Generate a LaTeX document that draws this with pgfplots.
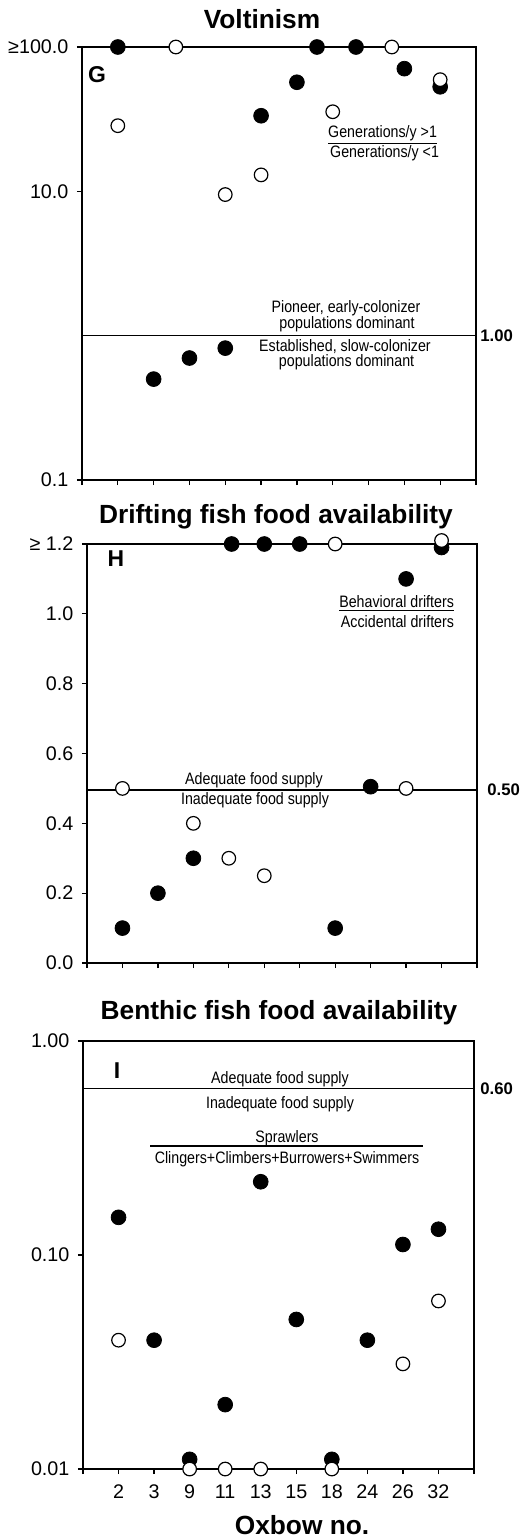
\documentclass[border=0pt]{standalone}
\usepackage{pgfplots}
\pgfplotsset{compat=1.18}
\usepackage{fontspec}
\setmainfont{Liberation Sans}
\newfontfamily\narrow[FakeStretch=0.86]{Liberation Sans}
\newcommand\note{\narrow\fontsize{8.3}{9.5}\selectfont}
\newcommand\titlefont{\bfseries\fontsize{13.2}{15}\selectfont}

\pgfplotsset{
  oxbow/.style={
    scale only axis, anchor=north west,
    xmin=0, xmax=11, xtick={0,...,11},
    axis line style={line width=0.6bp},
    tick align=outside, xtick pos=lower, ytick pos=left,
    major tick length=2.6bp,
    every tick/.style={line width=0.6bp, black},
    yminorticks=false, xminorticks=false,
    ticklabel style={font=\fontsize{9.9}{11}\selectfont},
    yticklabel style={inner sep=0pt, xshift=-4bp},
    clip=false,
  },
  above/.style={only marks, mark=*, mark size=3.7bp,
    mark options={fill=black, draw=black}},
  below/.style={only marks, mark=*, mark size=3.4bp,
    mark options={fill=white, draw=black, line width=0.6bp}},
  cut/.style={line width=0.7bp, black, no marks},
}

\begin{document}
\begin{tikzpicture}
\useasboundingbox (0,0) rectangle (260.5bp,-770bp);

% G: voltinism ratio
\begin{axis}[oxbow, at={(41bp,-23.5bp)}, width=197bp, height=216.5bp,
  ymode=log, ymin=0.1, ymax=100,
  ytick={0.1,10,100}, yticklabels={0.1,10.0,≥100.0}, xticklabels={}]
\addplot[cut] coordinates {(0,1) (11,1)};
\addplot[above] coordinates {(1,100) (2,0.50) (3,0.70) (4,0.82) (5,33.4)
  (6,57) (6.56,100) (7.65,100) (9,70.8) (10,53)};
\addplot[below] coordinates {(1,28.5) (2.62,100) (4,9.5) (5,13)
  (7,35.6) (8.65,100) (10,59.4)};
\end{axis}

% H: drifting fish food
\begin{axis}[oxbow, at={(43.5bp,-272bp)}, width=195bp, height=209.5bp,
  ymin=0, ymax=1.2,
  ytick={0,0.2,0.4,0.6,0.8,1.0,1.2},
  yticklabels={0.0,0.2,0.4,0.6,0.8,1.0,≥ 1.2}, xticklabels={}]
\addplot[cut, line width=0.9bp] coordinates {(0,0.495) (11,0.495)};
\addplot[above] coordinates {(1,0.1) (2,0.2) (3,0.3) (4.08,1.2) (5,1.2)
  (6,1.2) (7,0.1) (8,0.505) (9,1.1) (10,1.19)};
\addplot[below] coordinates {(1,0.5) (3,0.4) (4,0.3) (5,0.25) (7,1.2)
  (9,0.5) (10,1.21)};
\end{axis}

% I: benthic fish food
\begin{axis}[oxbow, at={(41.5bp,-520.5bp)}, width=195.5bp, height=214bp,
  ymode=log, ymin=0.01, ymax=1,
  ytick={0.01,0.1,1}, yticklabels={0.01,0.10,1.00},
  xticklabels={,2,3,9,11,13,15,18,24,26,32,},
  xticklabel style={inner sep=0pt, yshift=-5bp}]
\addplot[cut] coordinates {(0,0.6) (11,0.6)};
\addplot[above] coordinates {(1,0.15) (2,0.04) (3,0.0111) (4,0.02) (5,0.22)
  (6,0.05) (7,0.0111) (8,0.04) (9,0.112) (10,0.132)};
\addplot[below] coordinates {(1,0.04) (3,0.01) (4,0.01) (5,0.01) (7,0.01)
  (9,0.031) (10,0.061)};
\end{axis}

% titles
\node[anchor=base, font=\titlefont] at (131bp,-14bp) {Voltinism};
\node[anchor=base, font=\titlefont] at (138bp,-261.5bp) {Drifting fish food availability};
\node[anchor=base, font=\titlefont] at (139.5bp,-509.5bp) {Benthic fish food availability};
\node[anchor=base, font=\titlefont] at (151bp,-767bp) {Oxbow no.};

% panel letters
\node[font=\bfseries\fontsize{11.5}{13}\selectfont] at (48.5bp,-37.5bp) {G};
\node[font=\bfseries\fontsize{11.5}{13}\selectfont] at (58bp,-279.5bp) {H};
\node[font=\bfseries\fontsize{11.5}{13}\selectfont] at (58.5bp,-535.5bp) {I};

% threshold values
\node[anchor=west, font=\bfseries\fontsize{8.4}{10}\selectfont, inner sep=0pt] at (240bp,-168bp) {1.00};
\node[anchor=west, font=\bfseries\fontsize{8.4}{10}\selectfont, inner sep=0pt] at (243.5bp,-395bp) {0.50};
\node[anchor=west, font=\bfseries\fontsize{8.4}{10}\selectfont, inner sep=0pt] at (240bp,-544.5bp) {0.60};

% annotations, G
\node[font=\note, inner sep=0pt] at (173bp,-154.3bp) {Pioneer, early-colonizer};
\node[font=\note, inner sep=0pt] at (173.5bp,-162bp) {populations dominant};
\node[font=\note, inner sep=0pt] at (172.5bp,-173.2bp) {Established, slow-colonizer};
\node[font=\note, inner sep=0pt] at (173.3bp,-181bp) {populations dominant};
\node[font=\note, inner sep=0pt] at (191.3bp,-67.5bp) {\underline{Generations/y >1}};
\node[font=\note, inner sep=0pt] at (192.3bp,-76.75bp) {Generations/y <1};

% annotations, H
\node[font=\note, inner sep=0pt] at (198.3bp,-301.75bp) {\underline{Behavioral drifters}};
\node[font=\note, inner sep=0pt] at (198.75bp,-310.75bp) {Accidental drifters};
\node[font=\note, inner sep=0pt] at (127bp,-390bp) {Adequate food supply};
\node[font=\note, inner sep=0pt] at (127.5bp,-400bp) {Inadequate food supply};

% annotations, I
\node[font=\note, inner sep=0pt] at (140bp,-539.75bp) {Adequate food supply};
\node[font=\note, inner sep=0pt] at (140bp,-552bp) {Inadequate food supply};
\node[font=\note, inner sep=0pt] at (143.5bp,-569bp) {Sprawlers};
\draw[line width=0.6bp] (75bp,-573bp) -- (211.5bp,-573bp);
\node[font=\note, inner sep=0pt] at (143.5bp,-579.5bp) {Clingers+Climbers+Burrowers+Swimmers};
\end{tikzpicture}
\end{document}
